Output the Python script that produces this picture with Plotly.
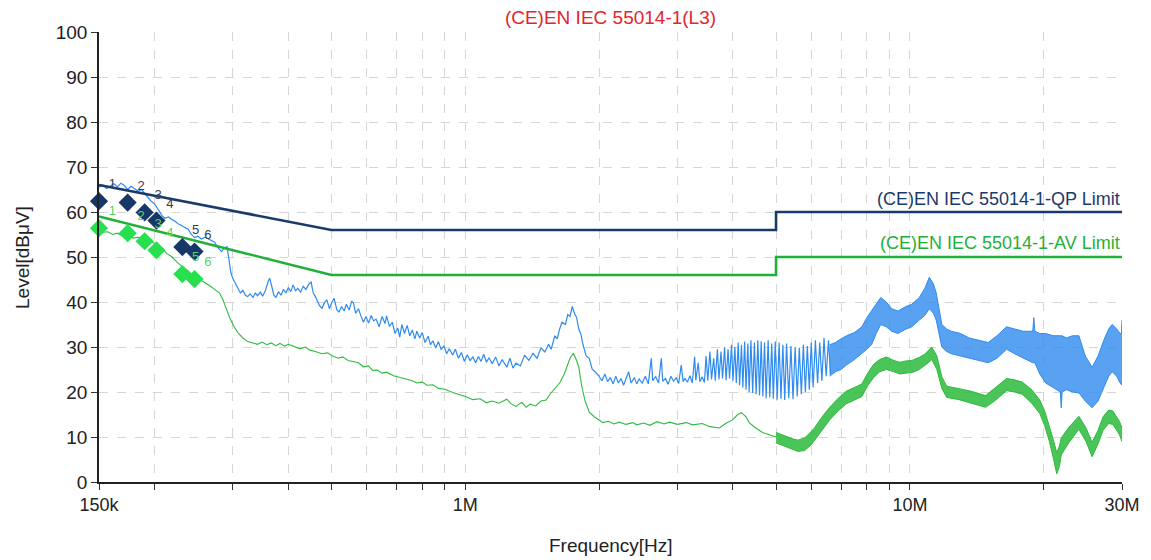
import plotly.graph_objects as go

# ---------------- data ----------------
# limit lines (frequency in MHz, level in dBuV)
qp_lim_freq = [0.15, 0.5, 5.0, 5.0, 30.0]
qp_lim_level = [66, 56, 56, 60, 60]
av_lim_freq = [0.15, 0.5, 5.0, 5.0, 30.0]
av_lim_level = [59, 46, 46, 50, 50]

# peak scan (blue), 0.15 - 6.6 MHz
pk_freq = [0.150, 0.153, 0.156, 0.159, 0.162, 0.165, 0.168, 0.171, 0.174, 0.177, 0.180, 0.184, 0.187, 0.190,
           0.193, 0.196, 0.200, 0.204, 0.208, 0.211, 0.215, 0.219, 0.222, 0.226, 0.230, 0.234, 0.238, 0.242,
           0.246, 0.250, 0.255, 0.260, 0.266, 0.273, 0.278, 0.283, 0.287, 0.291, 0.294, 0.297, 0.300, 0.304,
           0.308, 0.312, 0.316, 0.320, 0.324, 0.328, 0.333, 0.337, 0.341, 0.346, 0.350, 0.355, 0.360, 0.363,
           0.367, 0.371, 0.375, 0.380, 0.385, 0.390, 0.395, 0.400, 0.405, 0.410, 0.415, 0.420, 0.426, 0.432,
           0.438, 0.445, 0.450, 0.455, 0.460, 0.465, 0.470, 0.476, 0.482, 0.488, 0.495, 0.500, 0.507, 0.514,
           0.520, 0.527, 0.534, 0.540, 0.548, 0.555, 0.560, 0.567, 0.575, 0.583, 0.590, 0.598, 0.606, 0.614,
           0.622, 0.630, 0.640, 0.650, 0.660, 0.665, 0.675, 0.685, 0.695, 0.705, 0.712, 0.720, 0.730, 0.740,
           0.750, 0.760, 0.770, 0.778, 0.790, 0.800, 0.812, 0.825, 0.835, 0.845, 0.858, 0.870, 0.882, 0.895,
           0.908, 0.920, 0.937, 0.950, 0.965, 0.980, 0.995, 1.010, 1.025, 1.040, 1.055, 1.070, 1.085, 1.100,
           1.116, 1.130, 1.150, 1.170, 1.190, 1.210, 1.240, 1.260, 1.280, 1.300, 1.330, 1.360, 1.390, 1.420,
           1.450, 1.480, 1.510, 1.540, 1.560, 1.590, 1.610, 1.630, 1.650, 1.680, 1.700, 1.720, 1.740, 1.760,
           1.780, 1.800, 1.820, 1.840, 1.870, 1.900, 1.930, 1.960, 2.000, 2.030, 2.060, 2.090, 2.120, 2.150,
           2.180, 2.210, 2.240, 2.270, 2.300, 2.330, 2.360, 2.400, 2.430, 2.460, 2.500, 2.540, 2.580, 2.620,
           2.640, 2.680, 2.720, 2.760, 2.780, 2.820, 2.860, 2.900, 2.940, 2.980, 3.020, 3.060, 3.090, 3.120,
           3.160, 3.200, 3.240, 3.280, 3.300, 3.340, 3.370, 3.410, 3.450, 3.480, 3.510, 3.550, 3.580, 3.620,
           3.650, 3.690, 3.720, 3.760, 3.790, 3.830, 3.860, 3.900, 3.930, 3.970, 4.000, 4.040, 4.070, 4.110,
           4.140, 4.180, 4.210, 4.250, 4.280, 4.320, 4.350, 4.390, 4.430, 4.470, 4.510, 4.550, 4.590, 4.630,
           4.670, 4.710, 4.750, 4.800, 4.840, 4.890, 4.930, 4.980, 5.030, 5.080, 5.130, 5.180, 5.230, 5.280,
           5.340, 5.400, 5.460, 5.520, 5.580, 5.640, 5.700, 5.760, 5.820, 5.880, 5.940, 6.000, 6.060, 6.130,
           6.200, 6.270, 6.340, 6.410, 6.480, 6.560, 6.630]
pk_level = [65.5, 66.0, 65.2, 65.8, 66.3, 65.6, 66.4, 65.9, 65.0, 65.7, 65.3, 64.6, 65.0, 64.2,
            63.5, 62.5, 61.8, 60.5, 59.2, 58.6, 58.9, 58.3, 58.0, 57.4, 57.0, 56.5, 56.2, 55.0,
            54.3, 54.6, 54.0, 54.4, 53.8, 53.3, 52.0, 51.2, 52.0, 52.3, 49.5, 46.5, 45.2, 44.0,
            42.8, 42.0, 42.6, 41.5, 41.2, 41.8, 41.0, 42.0, 41.4, 42.2, 41.3, 42.5, 44.5, 45.3,
            43.5, 41.5, 41.0, 42.3, 41.5, 42.8, 42.0, 43.2, 42.3, 43.8, 42.5, 43.0, 42.2, 43.5,
            42.8, 44.0, 44.4, 42.0, 41.2, 40.0, 39.2, 38.6, 39.8, 40.5, 38.5, 39.8, 40.8, 38.3,
            37.8, 39.0, 38.0, 39.5, 38.2, 40.2, 39.8, 37.5, 38.5, 36.8, 35.5, 36.8, 35.3, 37.0,
            35.8, 36.2, 34.5, 36.8, 35.2, 36.9, 34.6, 35.5, 33.0, 34.2, 32.2, 35.0, 33.0, 34.8,
            32.5, 33.8, 31.8, 33.5, 32.0, 33.2, 31.0, 32.4, 30.5, 31.4, 29.8, 31.2, 29.5, 30.2,
            28.5, 29.6, 28.2, 29.5, 27.5, 28.8, 26.8, 28.3, 27.0, 27.8, 26.5, 27.9, 26.8, 28.4,
            26.6, 27.6, 26.3, 27.8, 25.8, 27.2, 25.5, 27.5, 25.3, 26.4, 25.8, 28.2, 27.0, 28.6,
            27.5, 29.8, 28.9, 30.6, 29.5, 32.5, 31.8, 34.0, 35.5, 35.0, 37.2, 36.8, 39.0, 37.5,
            36.5, 34.0, 32.8, 30.5, 28.0, 27.5, 25.0, 24.5, 23.5, 22.5, 24.0, 22.3, 23.2, 21.8,
            23.5, 22.0, 23.0, 21.5, 22.8, 24.5, 22.0, 23.2, 21.8, 22.9, 22.0, 23.5, 21.8, 27.5,
            22.5, 23.4, 22.0, 27.5, 22.4, 23.0, 21.7, 23.5, 22.4, 23.2, 21.9, 26.0, 22.3, 23.0,
            22.2, 23.6, 22.0, 27.8, 22.6, 26.5, 22.3, 23.4, 22.1, 28.0, 22.5, 29.0, 22.8, 27.5,
            22.5, 29.5, 22.8, 29.0, 23.0, 30.0, 22.6, 29.5, 23.0, 30.5, 22.5, 30.0, 22.0, 31.0,
            21.5, 30.5, 21.0, 31.2, 20.5, 30.8, 20.0, 31.5, 19.8, 31.0, 19.5, 31.5, 19.2, 31.3,
            19.0, 31.0, 18.6, 31.5, 18.8, 30.8, 18.5, 31.2, 18.3, 31.0, 18.5, 30.5, 18.2, 30.8,
            18.6, 30.2, 18.4, 30.0, 19.0, 29.8, 19.5, 30.5, 20.0, 30.2, 20.5, 31.0, 21.0, 31.5,
            22.0, 31.0, 22.5, 32.0, 23.5, 31.5, 24.0]

# peak scan (blue), 6.6 - 30 MHz: dense band, lower / upper envelope
pk_band_freq = [6.6, 6.8, 7.0, 7.2, 7.5, 7.8, 8.0, 8.2, 8.4, 8.6, 8.85, 9.1, 9.4, 9.8, 10.1, 10.5, 10.8,
                11.06, 11.3, 11.46, 11.8, 12.1, 12.4, 13.0, 13.6, 14.3, 15.0, 15.7, 16.5, 17.2, 18.0,
                18.9, 19.0, 19.1, 19.6, 20.2, 21.0, 21.8, 21.9, 22.0, 22.5, 23.2, 24.0, 24.8, 25.7,
                26.5, 27.3, 28.0, 28.5, 29.2, 29.7, 29.9, 30.0]
pk_band_lo = [23.5, 24.5, 25.0, 26.0, 27.2, 28.5, 29.5, 30.5, 33.0, 35.0, 34.5, 33.5, 33.0, 34.0, 34.5,
              36.0, 37.0, 38.5, 37.5, 36.0, 30.0, 29.0, 28.5, 28.0, 27.5, 27.0, 26.5, 27.5, 29.5, 28.5,
              27.5, 26.5, 26.5, 26.5, 24.0, 22.0, 21.0, 20.0, 16.5, 20.0, 20.5, 20.0, 19.8, 18.0, 16.5,
              18.0, 21.0, 23.5, 24.5, 23.5, 22.0, 21.5, 21.5]
pk_band_hi = [30.5, 31.0, 31.8, 32.5, 33.2, 34.5, 36.5, 38.0, 39.5, 41.0, 40.0, 38.5, 38.0, 39.0, 39.5,
              41.0, 43.0, 45.5, 44.0, 42.0, 35.0, 34.0, 33.5, 33.0, 32.0, 31.5, 31.0, 32.5, 34.5, 34.0,
              33.5, 33.5, 36.5, 33.5, 33.0, 33.0, 32.5, 32.5, 32.5, 32.5, 32.0, 32.5, 32.5, 28.0, 25.5,
              28.0, 31.5, 34.0, 35.0, 34.0, 33.0, 33.0, 36.0]

# average scan (green), 0.15 - 5 MHz
av_freq = [0.150, 0.153, 0.157, 0.161, 0.165, 0.170, 0.174, 0.179, 0.184, 0.188, 0.193, 0.197, 0.200, 0.204,
           0.208, 0.213, 0.219, 0.225, 0.231, 0.238, 0.246, 0.253, 0.260, 0.266, 0.273, 0.280, 0.285, 0.290,
           0.296, 0.302, 0.308, 0.316, 0.324, 0.333, 0.341, 0.349, 0.358, 0.366, 0.375, 0.383, 0.392, 0.400,
           0.413, 0.425, 0.437, 0.447, 0.460, 0.476, 0.490, 0.503, 0.518, 0.530, 0.545, 0.558, 0.575, 0.590,
           0.605, 0.619, 0.635, 0.650, 0.665, 0.690, 0.712, 0.735, 0.760, 0.778, 0.800, 0.820, 0.845, 0.870,
           0.900, 0.937, 0.971, 1.000, 1.040, 1.080, 1.116, 1.150, 1.190, 1.240, 1.270, 1.300, 1.340, 1.370,
           1.400, 1.440, 1.480, 1.520, 1.550, 1.580, 1.630, 1.670, 1.700, 1.720, 1.750, 1.780, 1.800, 1.830,
           1.860, 1.900, 1.950, 2.000, 2.040, 2.100, 2.160, 2.220, 2.300, 2.380, 2.430, 2.520, 2.600, 2.700,
           2.800, 2.880, 3.000, 3.140, 3.250, 3.410, 3.550, 3.730, 3.850, 3.990, 4.100, 4.180, 4.280, 4.350,
           4.500, 4.660, 4.800, 5.000]
av_level = [56.2, 55.5, 55.6, 55.0, 55.3, 54.6, 54.8, 54.2, 54.4, 53.9, 53.9, 53.3, 53.0, 52.6,
            52.0, 50.8, 50.0, 48.8, 47.8, 46.9, 45.6, 45.0, 44.3, 43.6, 42.8, 42.0, 40.5, 38.5,
            36.2, 34.5, 33.2, 32.0, 31.2, 30.9, 30.6, 31.1, 30.5, 30.9, 30.3, 30.8, 30.2, 30.6,
            30.0, 29.6, 30.0, 29.3, 29.0, 28.5, 28.7, 28.0, 27.5, 27.8, 27.0, 26.8, 26.5, 25.6,
            25.8, 24.8, 24.9, 24.2, 24.4, 23.6, 23.2, 22.8, 22.5, 22.0, 22.2, 21.5, 21.6, 20.8,
            20.6, 19.9, 19.5, 19.0, 18.3, 18.5, 17.6, 18.0, 17.5, 18.4, 17.3, 16.8, 17.7, 16.6,
            17.3, 16.9, 18.0, 18.2, 19.5, 20.5, 22.0, 24.0, 26.0, 27.5, 28.6, 27.0, 25.5, 21.0,
            18.0, 15.5, 14.5, 13.8, 13.2, 13.5, 12.9, 13.3, 12.8, 13.2, 12.7, 13.1, 12.6, 13.4,
            12.9, 13.3, 12.8, 13.2, 12.7, 13.0, 12.3, 12.0, 13.0, 13.8, 15.0, 15.4, 14.5, 13.2,
            12.0, 11.0, 10.6, 10.0]

# average scan (green), 5 - 30 MHz: dense band, lower / upper envelope
av_band_freq = [5.0, 5.15, 5.3, 5.45, 5.6, 5.8, 6.0, 6.1, 6.35, 6.6, 6.9, 7.2, 7.5, 7.8, 8.05, 8.3, 8.55,
                8.85, 9.2, 9.5, 9.8, 10.1, 10.5, 10.8, 11.0, 11.2, 11.5, 11.8, 12.1, 12.9, 13.7, 14.8,
                15.6, 16.5, 17.2, 17.9, 18.8, 19.6, 20.1, 20.6, 21.0, 21.4, 21.7, 21.9, 22.8, 24.0,
                24.9, 25.7, 26.5, 27.2, 28.0, 28.6, 29.1, 29.6, 30.0]
av_band_lo = [8.7, 8.2, 7.8, 7.3, 6.8, 7.0, 8.3, 9.2, 11.5, 13.8, 15.8, 17.4, 18.2, 19.0, 21.5, 23.3, 24.5,
              25.0, 24.5, 24.0, 24.2, 24.3, 25.0, 25.8, 26.5, 27.2, 25.0, 20.8, 18.8, 18.3, 17.6, 16.6,
              18.2, 20.3, 20.0, 19.5, 17.5, 15.2, 12.5, 9.0, 5.5, 1.8, 3.5, 6.0, 8.8, 11.7,
              9.0, 5.6, 8.5, 11.5, 13.0, 12.8, 11.7, 10.5, 9.0]
av_band_hi = [11.0, 10.5, 10.0, 9.6, 9.3, 9.8, 11.2, 12.0, 14.5, 16.6, 18.6, 20.2, 21.0, 21.8, 24.3, 26.2,
              27.2, 27.8, 27.0, 26.6, 26.9, 27.0, 27.7, 28.4, 29.2, 30.0, 28.0, 23.4, 21.3, 20.8, 20.2,
              19.2, 21.0, 23.0, 22.7, 22.2, 20.5, 18.2, 15.8, 12.5, 9.5, 6.5, 8.0, 9.8, 12.2, 14.6,
              12.0, 8.8, 11.5, 14.5, 16.0, 15.8, 14.6, 13.5, 12.0]

# final measurement points
qp_mk_freq = [0.150, 0.174, 0.190, 0.202, 0.231, 0.246]
qp_mk_level = [62.4, 62.1, 59.9, 58.1, 52.2, 51.2]
av_mk_freq = [0.150, 0.174, 0.190, 0.202, 0.231, 0.246]
av_mk_level = [56.4, 55.3, 53.5, 51.5, 46.2, 45.1]
mk_labels = ["1", "2", "3", "4", "5", "6"]

# axis ticks
x_tick_mhz = [0.15, 0.2, 0.3, 0.4, 0.5, 0.6, 0.7, 0.8, 0.9, 1, 2, 3, 4, 5, 6, 7, 8, 9, 10, 20, 30]
x_tick_text = ["150k", "", "", "", "", "", "", "", "", "1M", "", "", "", "", "", "", "", "", "10M", "", "30M"]
y_ticks = [0, 10, 20, 30, 40, 50, 60, 70, 80, 90, 100]

title_text = "(CE)EN IEC 55014-1(L3)"
qp_lim_name = "(CE)EN IEC 55014-1-QP Limit"
av_lim_name = "(CE)EN IEC 55014-1-AV Limit"

# ---------------- styles ----------------
C_QP = "#1b3a6c"
C_AV = "#1fb038"
C_PK = "#2f8bef"
C_AVT = "#2cbb3c"
C_QPM = "#163869"
C_AVM = "#27e04e"
FONT = "Liberation Sans, Arial, sans-serif"

def hz(lst):
    return [v * 1e6 for v in lst]

fig = go.Figure()

# blue peak trace
fig.add_trace(go.Scatter(x=hz(pk_freq), y=pk_level, mode="lines",
                         line=dict(color=C_PK, width=1.2)))
fig.add_trace(go.Scatter(x=hz(pk_band_freq), y=pk_band_lo, mode="lines",
                         line=dict(color=C_PK, width=1.0)))
fig.add_trace(go.Scatter(x=hz(pk_band_freq), y=pk_band_hi, mode="lines", fill="tonexty",
                         fillcolor="rgba(47,139,239,0.8)", line=dict(color=C_PK, width=1.0)))

# green average trace
fig.add_trace(go.Scatter(x=hz(av_freq), y=av_level, mode="lines",
                         line=dict(color=C_AVT, width=1.1)))
fig.add_trace(go.Scatter(x=hz(av_band_freq), y=av_band_lo, mode="lines",
                         line=dict(color=C_AVT, width=1.0)))
fig.add_trace(go.Scatter(x=hz(av_band_freq), y=av_band_hi, mode="lines", fill="tonexty",
                         fillcolor="rgba(44,187,60,0.85)", line=dict(color=C_AVT, width=1.0)))

# limits
fig.add_trace(go.Scatter(x=hz(qp_lim_freq), y=qp_lim_level, mode="lines",
                         line=dict(color=C_QP, width=2.6)))
fig.add_trace(go.Scatter(x=hz(av_lim_freq), y=av_lim_level, mode="lines",
                         line=dict(color=C_AV, width=2.6)))

# markers
fig.add_trace(go.Scatter(x=hz(qp_mk_freq), y=qp_mk_level, mode="markers+text",
                         marker=dict(symbol="diamond", size=14, color=C_QPM),
                         text=mk_labels, textposition="top right",
                         textfont=dict(color="#2f3d5c", size=13, family=FONT),
                         cliponaxis=False))
fig.add_trace(go.Scatter(x=hz(av_mk_freq), y=av_mk_level, mode="markers+text",
                         marker=dict(symbol="diamond", size=14, color=C_AVM),
                         text=mk_labels, textposition="top right",
                         textfont=dict(color="#5ad25a", size=13, family=FONT),
                         cliponaxis=False))

# limit labels
fig.add_annotation(x=1, xref="paper", y=62.9, yref="y", text=qp_lim_name, showarrow=False,
                   xanchor="right", yanchor="middle", font=dict(color=C_QP, size=18, family=FONT))
fig.add_annotation(x=1, xref="paper", y=53.1, yref="y", text=av_lim_name, showarrow=False,
                   xanchor="right", yanchor="middle", font=dict(color=C_AV, size=18, family=FONT))

# axis titles
fig.add_annotation(x=0.5, xref="paper", y=-0.14, yref="paper", text="Frequency[Hz]", showarrow=False,
                   xanchor="center", yanchor="middle", font=dict(color="#222222", size=19, family=FONT))
fig.add_annotation(x=-0.0753, xref="paper", y=0.5, yref="paper", text="Level[dBμV]", showarrow=False,
                   textangle=-90, xanchor="center", yanchor="middle",
                   font=dict(color="#222222", size=19, family=FONT))

# page body has an 8px margin: size the figure so that the plot area lands at x 99..1122, y 32..482
fig.update_layout(
    width=1143, height=552,
    margin=dict(l=91, r=29, t=24, b=78),
    paper_bgcolor="white", plot_bgcolor="white",
    showlegend=False,
    font=dict(family=FONT, color="#222222"),
    title=dict(text=title_text, x=0.5, xref="paper", y=1 - 9 / 552, yref="container",
               xanchor="center", yanchor="middle", font=dict(color="#e3262b", size=19, family=FONT)),
)

fig.update_xaxes(type="log", range=[5.176091, 7.477121],
                 tickvals=hz(x_tick_mhz), ticktext=x_tick_text,
                 ticks="outside", ticklen=6, tickcolor="#333333",
                 showline=True, linecolor="#222222", linewidth=1.5,
                 showgrid=True, gridcolor="#d6d6d6", griddash="dash", gridwidth=1,
                 zeroline=False, tickfont=dict(size=18, color="#222222"))
fig.update_yaxes(range=[0, 100], tickvals=y_ticks,
                 ticks="outside", ticklen=6, tickcolor="#333333",
                 showline=True, linecolor="#222222", linewidth=1.5,
                 showgrid=True, gridcolor="#d6d6d6", griddash="dash", gridwidth=1,
                 zeroline=False, tickfont=dict(size=19, color="#222222"))

fig.write_html("out.html")
